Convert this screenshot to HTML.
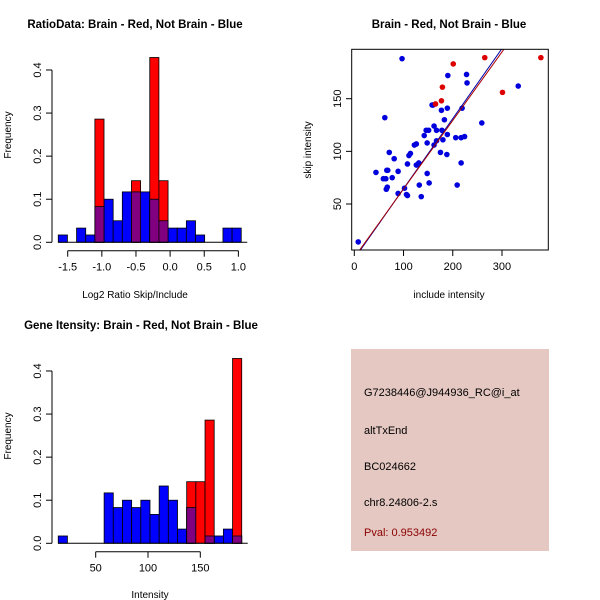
<!DOCTYPE html>
<html><head><meta charset="utf-8"><style>
body{margin:0;background:#fff}
svg{display:block;font-family:"Liberation Sans",sans-serif}
</style></head><body>
<svg id="c" width="600" height="600" xmlns="http://www.w3.org/2000/svg"></svg>
<script>
// Ratio histogram data
const ratioStart = -1.638;
const ratioBinWidth = 0.134;
const ratioBlue = [0.017,0,0.033,0.017,0.083,0.1,0.05,0.117,0.117,0.117,0.1,0.05,0.033,0.033,0.05,0.017,0,0,0.033,0.033];
const ratioRed  = [0,0,0,0,0.286,0,0,0,0.143,0,0.429,0.143,0,0,0,0,0,0,0,0];
const ratioXTicks = [-1.5,-1.0,-0.5,0.0,0.5,1.0];
const freqTicks = [0.0,0.1,0.2,0.3,0.4];
// Intensity histogram data
const intStart = 14.2;
const intBinWidth = 8.77;
const intBlue = [0.017,0,0,0,0,0.117,0.083,0.1,0.083,0.1,0.067,0.133,0.1,0.033,0.083,0,0.017,0.017,0.033,0.017];
const intRed  = [0,0,0,0,0,0,0,0,0,0,0,0,0,0,0.143,0.143,0.286,0,0,0.429];
const intXTicks = [50,100,150];
// Scatter data
const blueInc = [97,8,62,190,228,229,333,158,160,189,219,177,183,162,146,151,167,178,142,189,180,167,259,206,217,224,148,162,122,126,111,114,71,175,188,81,217,108,126,131,66,68,89,44,59,64,77,148,67,65,102,132,152,209,89,106,108,136];
const blueSkip = [188,14,132,172,173,165,162,144,144,141,141,139,130,124,120,120,120,120,115,116,111,110,127,113,113,114,108,106,106,107,96,98,99,99,97,93,89,88,87,89,82,82,81,80,74,74,75,79,66,64,65,68,70,68,60,59,58,57];
const redInc = [265,201,179,177,165,301,379];
const redSkip = [189,183,161,148,145,156,189];
const fitBlue = [-2, 0.6655];   // intercept, slope
const fitRed = [-0.78, 0.6506];
const scXTicks = [0,100,200,300];
const scYTicks = [50,100,150];

const svg = document.getElementById('c');
const NS = 'http://www.w3.org/2000/svg';
function mk(tag, attrs, parent){const e=document.createElementNS(NS,tag);for(const k in attrs)e.setAttribute(k,attrs[k]);(parent||svg).appendChild(e);return e;}
function txt(x,y,s,opts,parent){const t=mk('text',Object.assign({x:x,y:y,'font-size':11,'text-anchor':'middle',fill:'#000'},opts||{}),parent);t.textContent=s;return t;}

function hist(name, title, titleX, top, start, bw, blue, red, xTicks, sx, xlab){
  const g = mk('g',{});
  
  
  const y0 = top + 202.3, yScale = 430.8;
  const fy = v => y0 - v*yScale;
  const t = txt(titleX, top-12, title, {'font-weight':'bold','font-size':11.5}, g);
  
  
  for(let i=0;i<blue.length;i++){
    const xa = sx(start+i*bw), xb = sx(start+(i+1)*bw);
    if(blue[i]>0){
      const r = mk('rect',{x:xa,y:fy(blue[i]),width:xb-xa,height:y0-fy(blue[i]),fill:'#0000ff',stroke:'#000','stroke-width':0.8},g);
      
      
    }
  }
  for(let i=0;i<red.length;i++){
    const xa = sx(start+i*bw), xb = sx(start+(i+1)*bw);
    if(red[i]>0){
      const r = mk('rect',{x:xa,y:fy(red[i]),width:xb-xa,height:y0-fy(red[i]),fill:'#ff0000',stroke:'#000','stroke-width':0.8},g);
      
      
      const ov = Math.min(red[i], blue[i]);
      if(ov>0){
        const p = mk('rect',{x:xa,y:fy(ov),width:xb-xa,height:y0-fy(ov),fill:'#800080',stroke:'#000','stroke-width':0.8},g);
        
        
      }
    }
  }
  mk('line',{x1:sx(start),x2:sx(start+bw*blue.length)+6,y1:y0,y2:y0,stroke:'#000','stroke-width':1},g);
  mk('line',{x1:52,x2:52,y1:fy(0),y2:fy(0.4),stroke:'#000'},g);
  freqTicks.forEach(v=>{
    mk('line',{x1:46,x2:52,y1:fy(v),y2:fy(v),stroke:'#000'},g);
    txt(41,fy(v),v.toFixed(1),{transform:`rotate(-90 41 ${fy(v)})`},g);
  });
  const yl = txt(11, top+95, 'Frequency', {transform:`rotate(-90 11 ${top+95})`,'font-size':10}, g);
  
  
  const ay = top+210.7;
  mk('line',{x1:sx(xTicks[0]),x2:sx(xTicks[xTicks.length-1]),y1:ay,y2:ay,stroke:'#000'},g);
  xTicks.forEach(v=>{
    mk('line',{x1:sx(v),x2:sx(v),y1:ay,y2:ay+6,stroke:'#000'},g);
    txt(sx(v),ay+20,xlab(v),{},g);
  });
}
hist('ratio-histogram','RatioData: Brain - Red, Not Brain - Blue',135,40,ratioStart,ratioBinWidth,ratioBlue,ratioRed,ratioXTicks,v=>67.7+(v+1.5)*68.27,v=>v.toFixed(1));
const rx = txt(135,298,'Log2 Ratio Skip/Include',{'font-size':10});


hist('intensity-histogram','Gene Itensity: Brain - Red, Not Brain - Blue',141,341,intStart,intBinWidth,intBlue,intRed,intXTicks,v=>95.7+(v-50)*1.046,v=>String(v));
const ix = txt(150,598,'Intensity',{'font-size':10});



const sg = mk('g',{});


const sxs = v => 354.3 + v*0.4923;
const sys = v => 204 - (v-50)*1.053;
const st = txt(449,28,'Brain - Red, Not Brain - Blue',{'font-weight':'bold','font-size':11.5},sg);


mk('clipPath',{id:'clp'},sg);
mk('rect',{x:352,y:49.5,width:196.5,height:200.5},document.getElementById('clp'));
const lg = mk('g',{'clip-path':'url(#clp)'},sg);
blueInc.forEach((v,i)=>{
  const c = mk('circle',{cx:sxs(v),cy:sys(blueSkip[i]),r:2.8,fill:'#0000dd'},lg);
  
  
});
redInc.forEach((v,i)=>{
  const c = mk('circle',{cx:sxs(v),cy:sys(redSkip[i]),r:2.8,fill:'#dd0000'},lg);
  
  
});
[[fitBlue,'#0000aa','blue-fit-line'],[fitRed,'#aa0000','red-fit-line']].forEach(([f,col,nm])=>{
  const l = mk('line',{x1:sxs(-10),y1:sys(f[0]+f[1]*-10),x2:sxs(400),y2:sys(f[0]+f[1]*400),stroke:col,'stroke-width':1},lg);
  
  
});
mk('rect',{x:351.7,y:49.3,width:196.6,height:200.7,fill:'none',stroke:'#000'},sg);
mk('line',{x1:sxs(0),x2:sxs(300),y1:250,y2:250,stroke:'#000'},sg);
scXTicks.forEach(v=>{mk('line',{x1:sxs(v),x2:sxs(v),y1:250,y2:256,stroke:'#000'},sg);txt(sxs(v),270,String(v),{},sg);});
scYTicks.forEach(v=>{mk('line',{x1:346,x2:352,y1:sys(v),y2:sys(v),stroke:'#000'},sg);txt(341,sys(v),String(v),{transform:`rotate(-90 341 ${sys(v)})`},sg);});
const sx1 = txt(449,298,'include intensity',{'font-size':10},sg);


const sy1 = txt(311,150,'skip intensity',{'font-size':10,transform:'rotate(-90 311 150)'},sg);



const ig = mk('g',{});


mk('rect',{x:351,y:349,width:198,height:202,fill:'#e5c8c2'},ig);
[['G7238446@J944936_RC@i_at',396,'#000'],['altTxEnd',434,'#000'],['BC024662',470,'#000'],['chr8.24806-2.s',506,'#000'],['Pval: 0.953492',536,'#8b0000']].forEach(([s,y,c])=>{
  const t = txt(364,y,s,{'text-anchor':'start',fill:c,'font-size':11},ig);
  
  
});
</script>
</body></html>
